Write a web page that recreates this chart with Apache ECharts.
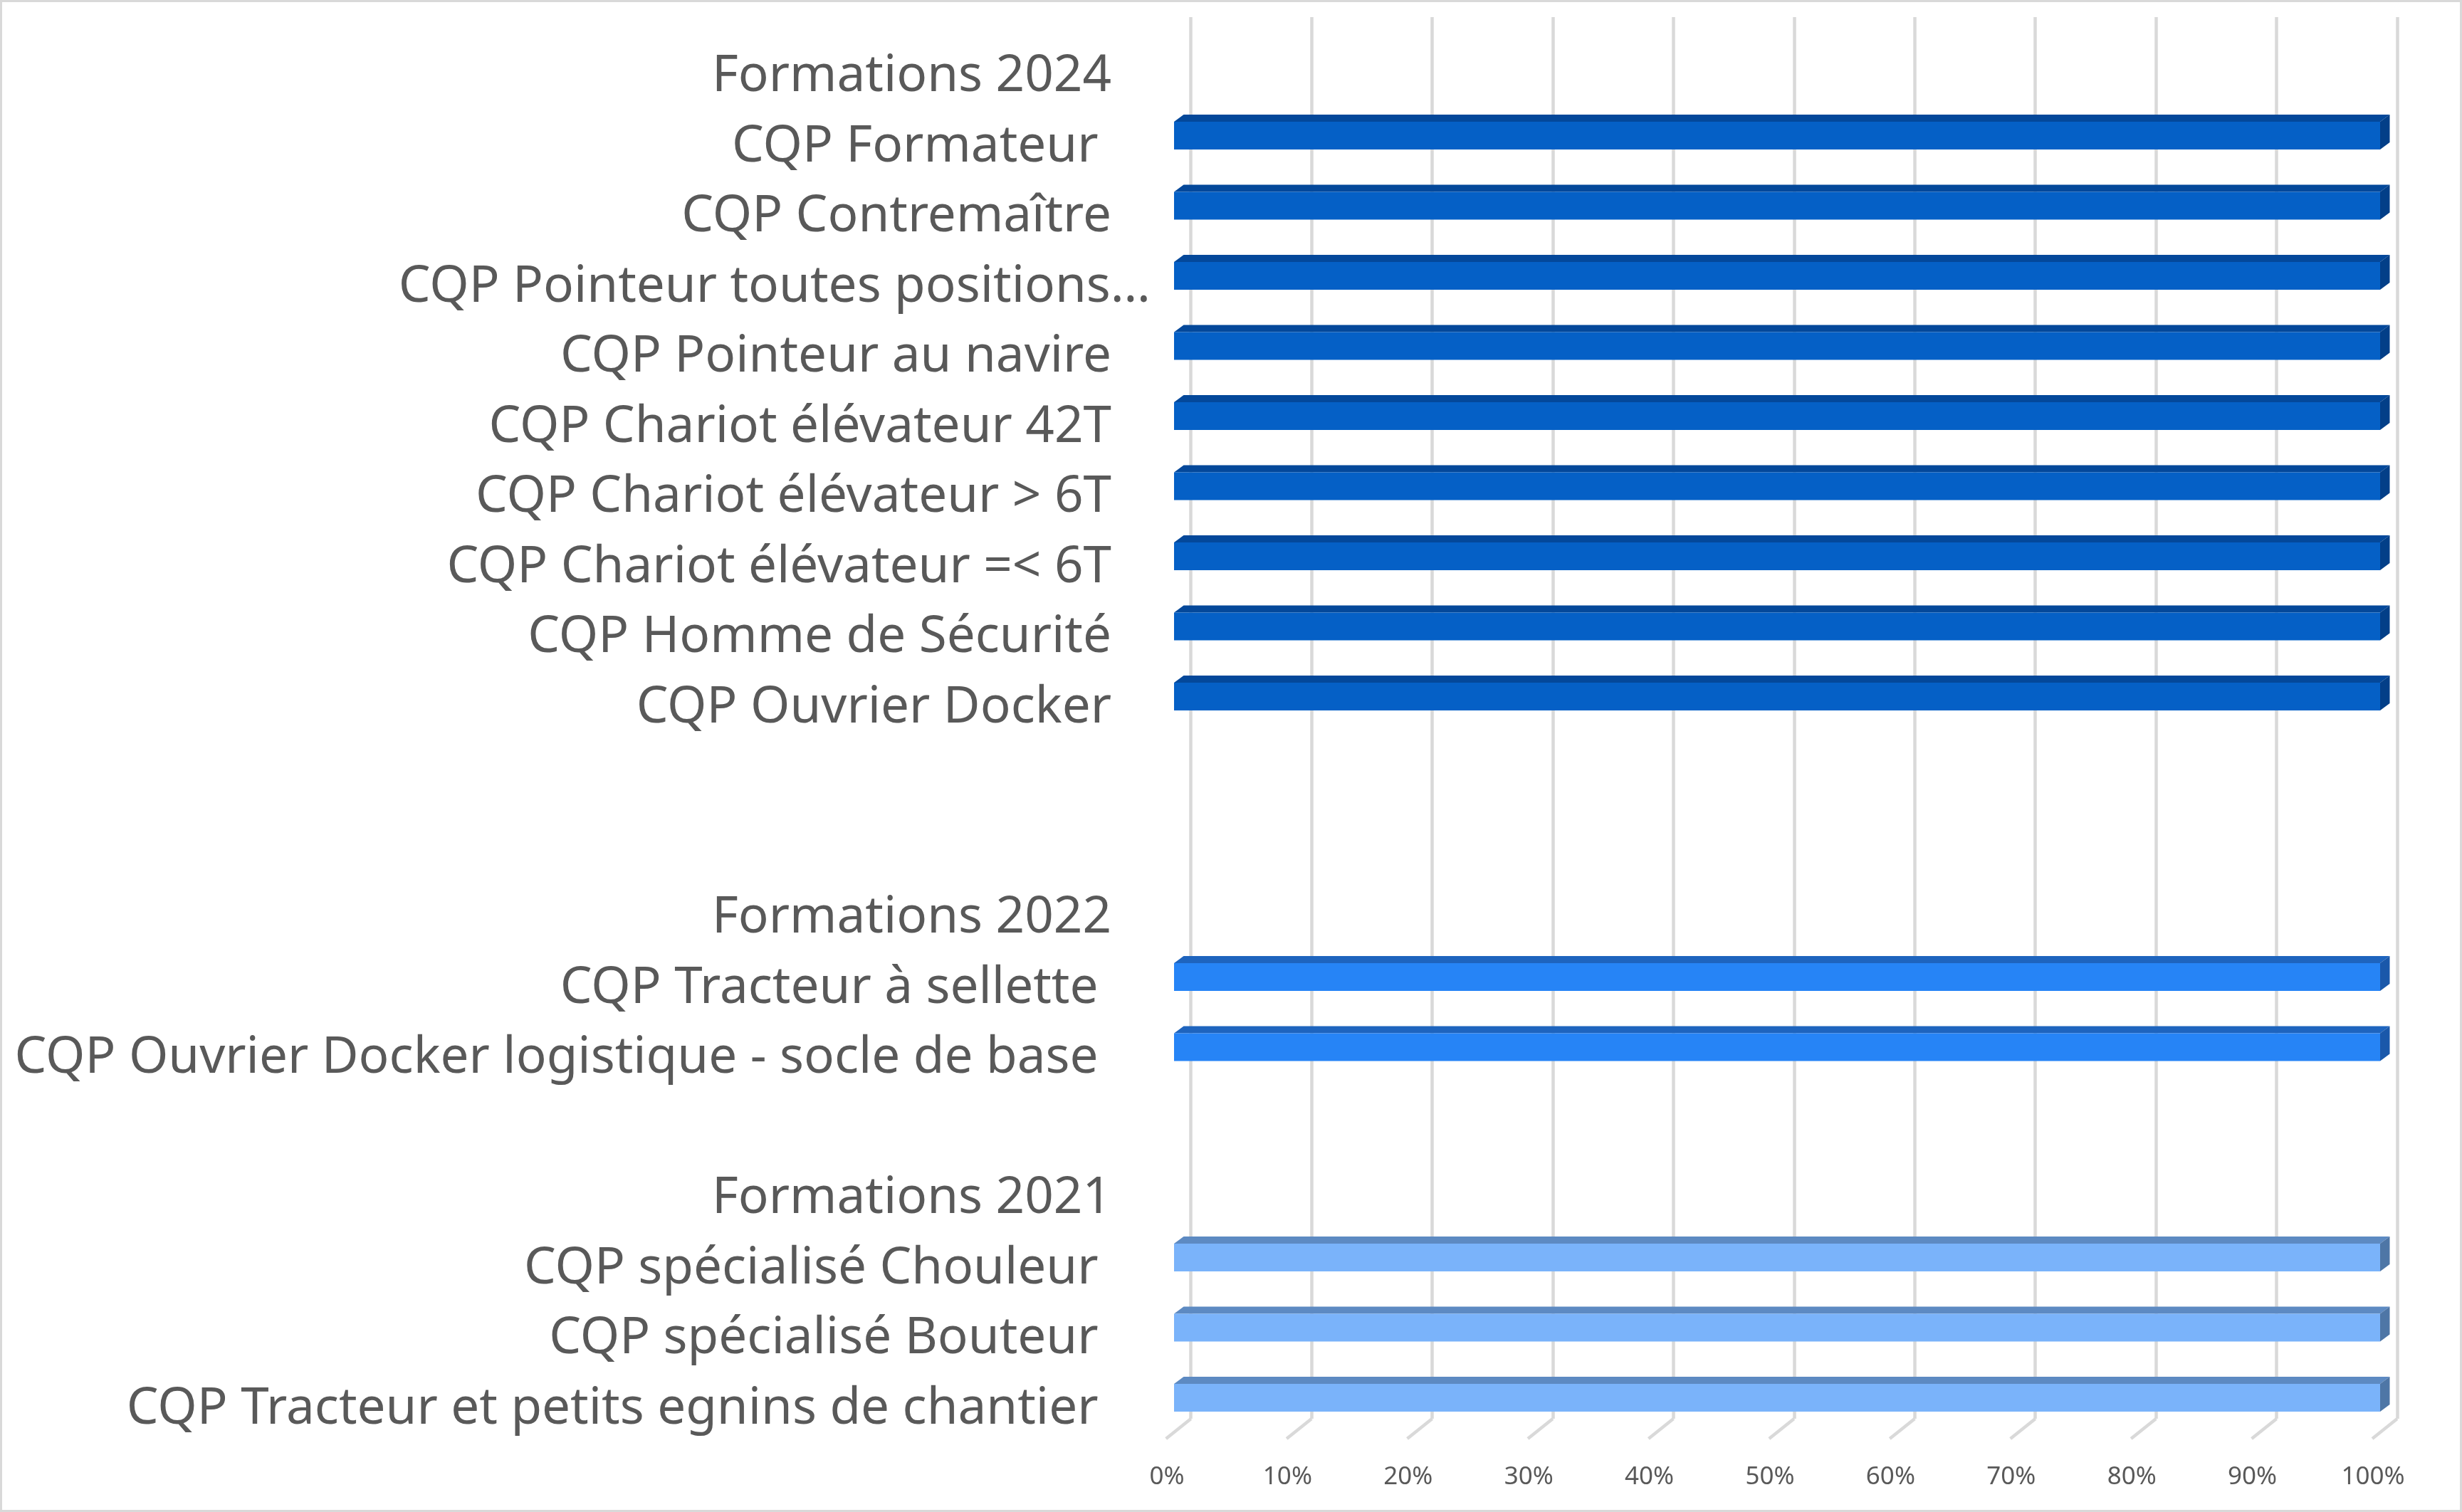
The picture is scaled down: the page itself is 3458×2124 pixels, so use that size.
<!DOCTYPE html>
<html>
<head>
<meta charset="utf-8">
<script src="https://cdn.jsdelivr.net/npm/echarts@6/dist/echarts.min.js"></script>
<style>
html,body{margin:0;padding:0;background:#fff;}
#chart{width:3458px;height:2124px;}
</style>
</head>
<body>
<div id="chart"></div>
<script>
// ---- data ----
const categories = [
  'Formations 2024',
  'CQP Formateur ',
  'CQP Contremaître',
  'CQP Pointeur toutes positions…',
  'CQP Pointeur au navire',
  'CQP Chariot élévateur 42T',
  'CQP Chariot élévateur > 6T',
  'CQP Chariot élévateur =< 6T',
  'CQP Homme de Sécurité',
  'CQP Ouvrier Docker',
  ' ',
  '  ',
  'Formations 2022',
  'CQP Tracteur à sellette ',
  'CQP Ouvrier Docker logistique - socle de base ',
  '   ',
  'Formations 2021',
  'CQP spécialisé Chouleur ',
  'CQP spécialisé Bouteur ',
  'CQP Tracteur et petits egnins de chantier '
];
const names2024 = ['CQP Formateur ','CQP Contremaître','CQP Pointeur toutes positions…','CQP Pointeur au navire','CQP Chariot élévateur 42T','CQP Chariot élévateur > 6T','CQP Chariot élévateur =< 6T','CQP Homme de Sécurité','CQP Ouvrier Docker'];
const values2024 = [1,1,1,1,1,1,1,1,1];
const names2022 = ['CQP Tracteur à sellette ','CQP Ouvrier Docker logistique - socle de base '];
const values2022 = [1,1];
const names2021 = ['CQP spécialisé Chouleur ','CQP spécialisé Bouteur ','CQP Tracteur et petits egnins de chantier '];
const values2021 = [1,1,1];
const tickValues = [0,0.1,0.2,0.3,0.4,0.5,0.6,0.7,0.8,0.9,1];

// ---- chart ----
const chart = echarts.init(document.getElementById('chart'), null, {renderer:'canvas'});
const FONT = '"Noto Sans", "Open Sans", sans-serif';
const GRID_COLOR = '#d9d9d9';

function pairs(names, values){
  return names.map((n,i)=>[values[i], categories.indexOf(n)]);
}
function bar3d(colors){
  return function(params, api){
    const v = api.value(0), c = api.value(1);
    const s = api.coord([0, c]);
    const e = api.coord([v, c]);
    const band = api.size([0,1])[1];
    const h = band*0.395, dx = 13.5, dy = 10;
    const x0 = s[0], x1 = e[0], yT = s[1]-h/2, yB = s[1]+h/2;
    return {type:'group', children:[
      {type:'polygon', shape:{points:[[x0,yT],[x0+dx,yT-dy],[x1+dx,yT-dy],[x1,yT]]}, style:{fill:colors.top}},
      {type:'polygon', shape:{points:[[x1,yT],[x1+dx,yT-dy],[x1+dx,yB-dy],[x1,yB]]}, style:{fill:colors.side}},
      {type:'rect', shape:{x:x0,y:yT,width:x1-x0,height:h}, style:{fill:colors.front}}
    ]};
  };
}

const option = {
  backgroundColor:'#ffffff',
  animation:false,
  graphic:[{type:'rect', shape:{x:1.5,y:1.5,width:3455,height:2121}, style:{fill:'none', stroke:GRID_COLOR, lineWidth:3}, z:100}],
  grid:[
    {left:1649, width:1694, top:42.8, height:1970},
    {left:1672.7, width:1694.3, top:24, height:1969}
  ],
  xAxis:[
    {gridIndex:0, type:'value', min:0, max:1, interval:0.1,
     axisLine:{show:false}, axisTick:{show:false}, splitLine:{show:false},
     axisLabel:{formatter:v=>Math.round(v*100)+'%', fontFamily:FONT, fontSize:35, color:'#595959', margin:42, lineHeight:40, padding:[0,20,0,0]}},
    {gridIndex:1, type:'value', min:0, max:1, interval:0.1,
     axisLine:{show:false}, axisTick:{show:false}, axisLabel:{show:false},
     splitLine:{show:true, lineStyle:{color:GRID_COLOR, width:4.5}}}
  ],
  yAxis:[
    {gridIndex:0, type:'category', inverse:true, data:categories,
     axisLine:{show:false}, axisTick:{show:false}, splitLine:{show:false},
     axisLabel:{fontFamily:FONT, fontSize:71, color:'#595959', margin:88, padding:[32,0,0,0],
       formatter:function(v){ return v.indexOf('…')>=0 ? '{w|'+v+'}' : v; },
       rich:{w:{fontFamily:FONT, fontSize:71, color:'#595959', padding:[0,-55,0,0]}}}},
    {gridIndex:1, type:'value', min:0, max:1, show:false}
  ],
  series:[
    {type:'custom', name:'floor', xAxisIndex:1, yAxisIndex:1, silent:true,
     data:tickValues.map(v=>[v,0]),
     renderItem:function(params, api){
       const p = api.coord([api.value(0), api.value(1)]);
       return {type:'line', shape:{x1:p[0], y1:p[1], x2:p[0]-35, y2:p[1]+28}, style:{stroke:GRID_COLOR, lineWidth:4.5}};
     }},
    {type:'custom', name:'Formations 2024', xAxisIndex:0, yAxisIndex:0, data:pairs(names2024, values2024),
     renderItem:bar3d({front:'#0560C6', top:'#04489A', side:'#033F88'})},
    {type:'custom', name:'Formations 2022', xAxisIndex:0, yAxisIndex:0, data:pairs(names2022, values2022),
     renderItem:bar3d({front:'#2684F6', top:'#1E64BE', side:'#1A58AA'})},
    {type:'custom', name:'Formations 2021', xAxisIndex:0, yAxisIndex:0, data:pairs(names2021, values2021),
     renderItem:bar3d({front:'#7AB3FA', top:'#5D8AC2', side:'#4E76A6'})}
  ]
};
chart.setOption(option);
</script>
</body>
</html>
